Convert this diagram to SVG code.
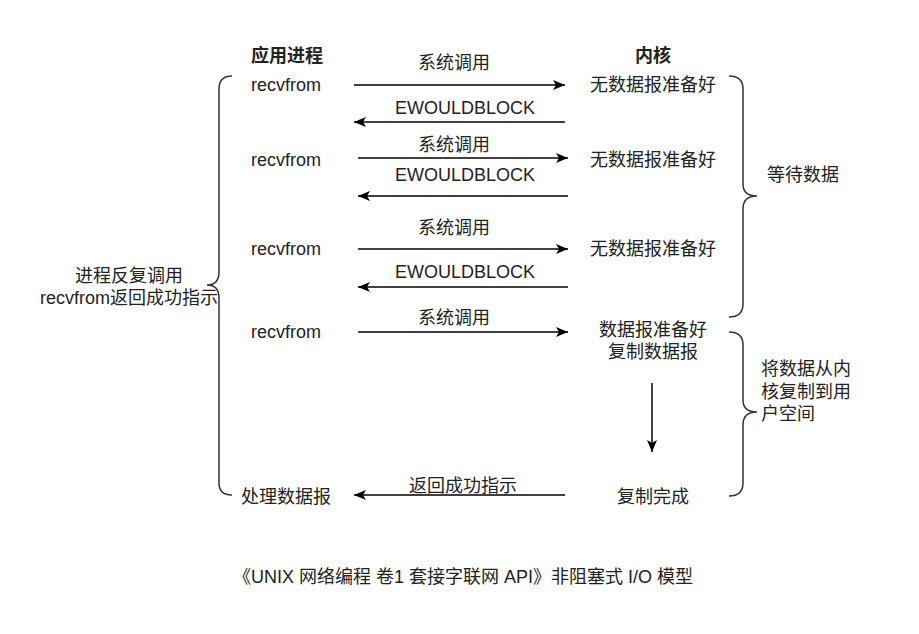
<svg xmlns="http://www.w3.org/2000/svg" width="919" height="634" viewBox="0 0 919 634">
<style>
text{font-family:"Liberation Sans","Noto Sans CJK SC",sans-serif;font-size:18px;fill:#222;text-anchor:middle;dominant-baseline:central}
.b{font-weight:bold}
.l{text-anchor:start}
.c{fill:none;stroke:#000;stroke-width:1.5}
.br{fill:none;stroke:#333;stroke-width:1.5}
</style>
<defs>
<marker id="ah" markerUnits="userSpaceOnUse" markerWidth="14" markerHeight="12" refX="12" refY="6" orient="auto">
<path d="M0,1 L12,6 L0,11 L3,6 Z" fill="#000"/>
</marker>
</defs>
<rect width="919" height="634" fill="#fff"/>
<g id="connectors">
<line class="c" x1="354" y1="85" x2="565" y2="85" marker-end="url(#ah)"/>
<line class="c" x1="565" y1="122" x2="354" y2="122" marker-end="url(#ah)"/>
<line class="c" x1="358" y1="158" x2="568" y2="158" marker-end="url(#ah)"/>
<line class="c" x1="568" y1="196" x2="358" y2="196" marker-end="url(#ah)"/>
<line class="c" x1="358" y1="249" x2="568" y2="249" marker-end="url(#ah)"/>
<line class="c" x1="568" y1="287" x2="358" y2="287" marker-end="url(#ah)"/>
<line class="c" x1="358" y1="332" x2="568" y2="332" marker-end="url(#ah)"/>
<line class="c" x1="652" y1="383" x2="652" y2="452" marker-end="url(#ah)"/>
<line class="c" x1="565" y1="495" x2="354" y2="495" marker-end="url(#ah)"/>
</g>
<g id="labels">
<text x="454" y="63">系统调用</text>
<text x="465" y="108">EWOULDBLOCK</text>
<text x="454" y="145">系统调用</text>
<text x="465" y="175">EWOULDBLOCK</text>
<text x="454" y="228">系统调用</text>
<text x="465" y="272">EWOULDBLOCK</text>
<text x="454" y="318">系统调用</text>
<text x="463" y="486">返回成功指示</text>
</g>
<g id="header-app"><text class="b" x="287" y="56">应用进程</text></g>
<g id="header-kernel"><text class="b" x="653" y="56">内核</text></g>
<g id="app1"><text x="286" y="85">recvfrom</text></g>
<g id="app2"><text x="286" y="160">recvfrom</text></g>
<g id="app3"><text x="286" y="249">recvfrom</text></g>
<g id="app4"><text x="286" y="332">recvfrom</text></g>
<g id="app5"><text x="286" y="497">处理数据报</text></g>
<g id="k1"><text x="653" y="85">无数据报准备好</text></g>
<g id="k2"><text x="653" y="160">无数据报准备好</text></g>
<g id="k3"><text x="653" y="249">无数据报准备好</text></g>
<g id="k4"><text x="653" y="330">数据报准备好</text><text x="653" y="352">复制数据报</text></g>
<g id="k5"><text x="653" y="497">复制完成</text></g>
<g id="brace-left">
<path class="br" d="M232,76 Q219,76 219,89 L219,272 Q219,285 207,285 Q219,285 219,298 L219,483 Q219,495 232,495"/>
<text x="129" y="276">进程反复调用</text>
<text x="129" y="298">recvfrom返回成功指示</text>
</g>
<g id="brace-wait">
<path class="br" d="M729,76 Q743,76 743,89 L743,184 Q743,196 757,196 Q743,196 743,209 L743,304 Q743,317 729,317"/>
<text x="803" y="175">等待数据</text>
</g>
<g id="brace-copy">
<path class="br" d="M729,332 Q743,332 743,345 L743,400 Q743,412 757,412 Q743,412 743,425 L743,483 Q743,496 729,496"/>
<text class="l" x="761" y="369">将数据从内</text>
<text class="l" x="761" y="392">核复制到用</text>
<text class="l" x="761" y="414">户空间</text>
</g>
<g id="caption"><text x="463" y="577">《UNIX 网络编程 卷1 套接字联网 API》非阻塞式 I/O 模型</text></g>
</svg>
